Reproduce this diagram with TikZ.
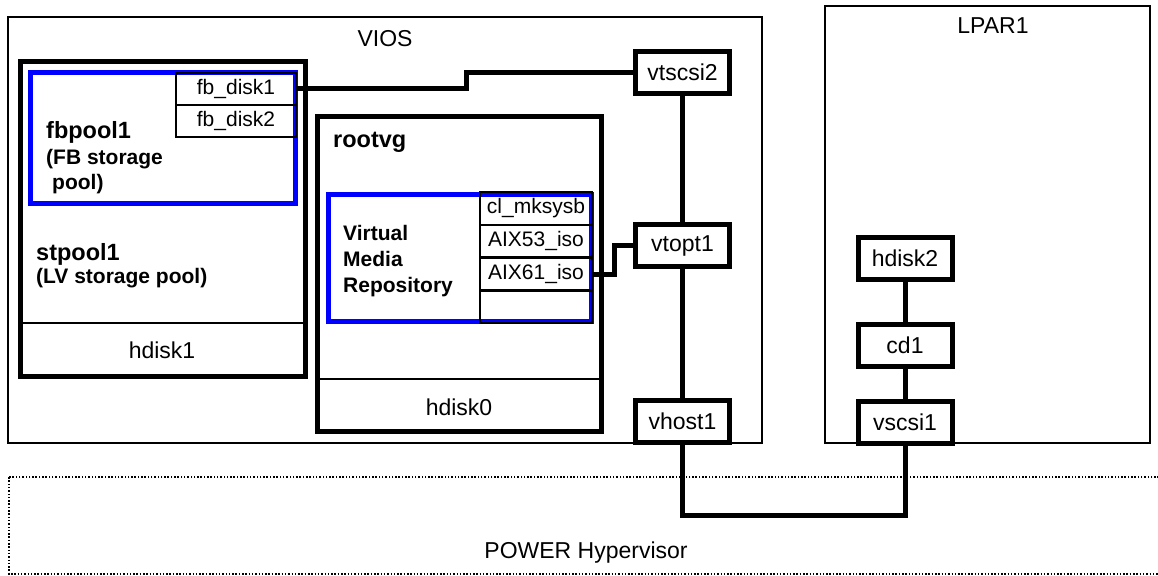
\documentclass[tikz,border=0pt]{standalone}
\usepackage{fontspec}
\setmainfont{Liberation Sans}
\begin{document}
\begin{tikzpicture}[x=1pt,y=-1pt,
  thinframe/.style={draw,line width=2pt},
  thickframe/.style={draw,line width=5pt},
  blueframe/.style={draw=pureblue,line width=5pt},
  hvframe/.style={draw,line width=1.5pt,dash pattern=on 1.5pt off 1.8pt},
  devbox/.style={draw,line width=5pt,fill=white,minimum width=94pt,minimum height=42pt,inner sep=0pt,font=\fontsize{23}{26}\selectfont},
  fbrow/.style={draw,line width=2.5pt,minimum width=120pt,minimum height=32pt,inner sep=0pt,font=\fontsize{21}{24}\selectfont},
  vmrow/.style={draw,line width=2.5pt,minimum width=112pt,minimum height=32.75pt,inner sep=0pt,font=\fontsize{21}{24}\selectfont},
  lbl/.style={inner sep=0pt,font=\fontsize{23}{26}\selectfont},
  btitle/.style={inner sep=0pt,anchor=base west,font=\bfseries\fontsize{23.5}{26}\selectfont},
  bsub/.style={inner sep=0pt,anchor=base west,font=\bfseries\fontsize{21}{26}\selectfont},
  wire/.style={draw,line width=5pt}]
\definecolor{pureblue}{RGB}{0,0,255}
\useasboundingbox (0,0) rectangle (1158,575);

% frames
\draw[thinframe] (8,17) rectangle (762,443);
\draw[thinframe] (825,6) rectangle (1150,443);
\draw[hvframe] (9,477) rectangle (1175,574);

\node[lbl] (viostitle) at (385,39) {VIOS};
\node[lbl] (lpartitle) at (993,26) {LPAR1};
\node[lbl] (hvtitle) at (586,553) {POWER Hypervisor};

% stpool1
\draw[thickframe] (20.5,62) rectangle (305,376);
\draw[line width=2pt] (20.5,323) -- (305,323);
\node[lbl] (hdisk1) at (162,350) {hdisk1};
\node[btitle] (stpooltitle) at (36,260) {stpool1};
\node[bsub] (stpoolsub) at (36,283.5) {(LV storage pool)};

% fbpool1
\draw[blueframe] (30,72.5) rectangle (295,203);
\node[fbrow] (fbd1) at (236,89) {fb\_disk1};
\node[fbrow] (fbd2) at (236,121) {fb\_disk2};
\node[btitle] (fbtitle) at (46,138) {fbpool1};
\node[bsub] (fbsub) at (46,164) {(FB storage};
\node[bsub] (fbsub2) at (52,189.5) {pool)};

% rootvg
\draw[thickframe] (317,117) rectangle (601,431);
\draw[line width=2pt] (317,379) -- (601,379);
\node[lbl] (hdisk0) at (459,407) {hdisk0};
\node[btitle] (rootvgtitle) at (333,147) {rootvg};

% virtual media repository
\draw[blueframe] (328,194) rectangle (591,321);
\node[vmrow] (mksysb) at (536,208.5) {cl\_mksysb};
\node[vmrow] (aix53) at (536,241.25) {AIX53\_iso};
\node[vmrow] (aix61) at (536,274) {AIX61\_iso};
\node[vmrow] (vmrempty) at (536,306.75) {};
\node[bsub] (vmr1) at (343,240) {Virtual};
\node[bsub] (vmr2) at (343,266) {Media};
\node[bsub] (vmr3) at (343,292) {Repository};

% devices
\node[devbox] (vtscsi2) at (682.5,72.5) {vtscsi2};
\node[devbox] (vtopt1) at (682.5,245.5) {vtopt1};
\node[devbox] (vhost1) at (682.5,421.5) {vhost1};
\node[devbox] (hdisk2) at (905,258.5) {hdisk2};
\node[devbox] (cd1) at (905,345.5) {cd1};
\node[devbox] (vscsi1) at (905,422) {vscsi1};

% connectors
\coordinate (hvy) at (0,515);
\draw[wire] (fbd1.east) -- ++(169,0) |- (vtscsi2.west);
\draw[wire] (aix61.east) -- ++(21,0) |- (vtopt1.west);
\draw[wire] (vtscsi2.south) -- (vtopt1.north);
\draw[wire] (vtopt1.south) -- (vhost1.north);
\draw[wire] (hdisk2.south) -- (cd1.north);
\draw[wire] (cd1.south) -- (vscsi1.north);
\draw[wire] (vhost1.south) -- (vhost1.south |- hvy) -| (vscsi1.south);
\end{tikzpicture}
\end{document}
